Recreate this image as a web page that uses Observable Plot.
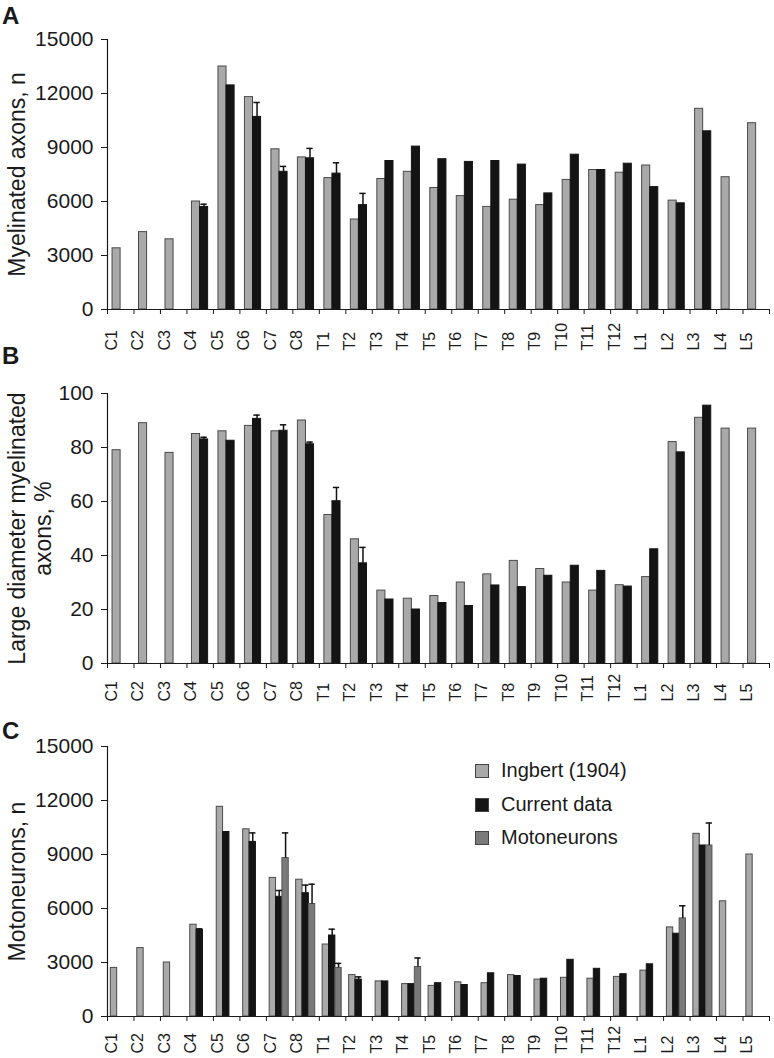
<!DOCTYPE html>
<html>
<head>
<meta charset="utf-8">
<script src="https://cdn.jsdelivr.net/npm/d3@7"></script>
<script src="https://cdn.jsdelivr.net/npm/@observablehq/plot@0.6"></script>
<style>
  html, body { margin: 0; padding: 0; background: #fff; }
  body { width: 774px; height: 1058px; position: relative; overflow: hidden;
         font-family: "Liberation Sans", Arial, Helvetica, sans-serif; color: #1a1a1a; }
  .panel { position: absolute; left: 0; z-index: 1; }
  .letter { position: absolute; left: 2px; font-weight: bold; font-size: 24px; line-height: 1; z-index: 3; }
  .legend { position: absolute; left: 475px; top: 760px; font-size: 20px; z-index: 3; }
  .legend .row { position: relative; height: 33.5px; }
  .legend .sw { position: absolute; left: 0; top: 4px; width: 12px; height: 12px; border: 1px solid #444; }
  .legend .lb { position: absolute; left: 26px; top: -1px; white-space: nowrap; }
</style>
</head>
<body>
<div class="letter" style="top:4px">A</div>
<div class="letter" style="top:344px">B</div>
<div class="letter" style="top:719px">C</div>
<div id="pa" class="panel" style="top:0px"></div>
<div id="pb" class="panel" style="top:353px"></div>
<div id="pc" class="panel" style="top:706px"></div>
<div class="legend" id="legend"></div>
<script>
// ---------- data ----------
const segments = ["C1","C2","C3","C4","C5","C6","C7","C8","T1","T2","T3","T4","T5","T6","T7","T8","T9","T10","T11","T12","L1","L2","L3","L4","L5"];

// Panel A: myelinated axons, n
const axonsIngbert = [3400,4300,3900,6000,13500,11800,8900,8450,7300,5000,7250,7650,6750,6300,5700,6100,5800,7200,7750,7600,8000,6050,11150,7350,10350];
const axonsCurrent = [null,null,null,5700,12450,10700,7650,8400,7550,5800,8250,9050,8350,8200,8250,8050,6450,8600,7750,8100,6800,5900,9900,null,null];
const axonsCurrentErr = [null,null,null,5850,null,11500,7950,8950,8150,6450,null,null,null,null,null,null,null,null,null,null,null,null,null,null,null];
const axonsTicks = [0,3000,6000,9000,12000,15000];

// Panel B: large diameter myelinated axons, %
const largeIngbert = [79,89,78,85,86,88,86,90,55,46,27,24,25,30,33,38,35,30,27,29,32,82,91,87,87];
const largeCurrent = [null,null,null,83,82.5,90.6,86.2,81.2,60.1,37.1,23.7,20,22.4,21.3,28.9,28.3,32.5,36.2,34.3,28.5,42.3,78.2,95.5,null,null];
const largeCurrentErr = [null,null,null,83.8,null,92,88.4,82,65.2,43,null,null,null,null,null,null,null,null,null,null,null,null,null,null,null];
const largeTicks = [0,20,40,60,80,100];

// Panel C: motoneurons, n
const motoIngbert = [2700,3800,3000,5100,11650,10400,7700,7600,4000,2300,1950,1800,1700,1900,1850,2300,2050,2150,2100,2200,2550,4950,10150,6400,9000];
const motoCurrent = [null,null,null,4800,10250,9700,6650,6850,4500,2050,1950,1800,1850,1750,2400,2250,2100,3150,2650,2350,2900,4600,9500,null,null];
const motoCurrentErr = [null,null,null,4870,null,10200,7000,7300,4850,2200,null,null,null,null,null,null,null,null,null,null,null,null,null,null,null];
const motoMoto = [null,null,null,null,null,null,8800,6250,2700,null,null,2750,null,null,null,null,null,null,null,null,null,5450,9500,null,null];
const motoMotoErr = [null,null,null,null,null,null,10200,7350,2950,null,null,3250,null,null,null,null,null,null,null,null,null,6150,10750,null,null];
const motoTicks = [0,3000,6000,9000,12000,15000];

const seriesNames = ["Ingbert (1904)", "Current data", "Motoneurons"];
const fills = {"Ingbert (1904)": "#a9a9a9", "Current data": "#141414", "Motoneurons": "#7a7a7a"};
const strokes = {"Ingbert (1904)": "#4a4a4a", "Current data": "#141414", "Motoneurons": "#555555"};

const FONT = '"Liberation Sans", Arial, Helvetica, sans-serif';

// build a long table from the arrays
function table(seriesList) {
  const rows = [];
  seriesList.forEach(([name, vals, errs], k) => {
    vals.forEach((v, i) => {
      if (v != null) rows.push({seg: segments[i], i, k, series: name, value: v, err: errs ? errs[i] : null});
    });
  });
  return rows;
}

function panel({rows, slotStart, slotWidth, ymax, ticks, title, titleDx, marginTop, marginBottom, labelDy}) {
  const h = marginTop + 270 + marginBottom;
  const x1 = d => d.i + slotStart + d.k * slotWidth;
  const x2 = d => d.i + slotStart + (d.k + 1) * slotWidth;
  const xc = d => d.i + slotStart + (d.k + 0.5) * slotWidth;
  const capHalf = 0.12;
  const errRows = rows.filter(d => d.err != null);
  return Plot.plot({
    width: 774,
    height: h,
    marginLeft: 107,
    marginRight: 5,
    marginTop,
    marginBottom,
    style: {fontFamily: FONT, color: "#1a1a1a", background: "transparent", overflow: "visible"},
    x: {domain: [0, segments.length], axis: null},
    y: {domain: [0, ymax], axis: null},
    marks: [
      Plot.rect(rows, {x1, x2, y1: 0, y2: "value",
        fill: d => fills[d.series], stroke: d => strokes[d.series], strokeWidth: 1}),
      Plot.ruleX(errRows, {x: xc, y1: "value", y2: "err", stroke: "#111", strokeWidth: 1.5}),
      Plot.ruleY(errRows, {y: "err", x1: d => xc(d) - capHalf, x2: d => xc(d) + capHalf, stroke: "#111", strokeWidth: 1.5}),
      Plot.axisY({ticks, tickSize: 6, tickPadding: 8, tickFormat: d3.format("d"), fontSize: 21, label: null}),
      Plot.axisX({ticks: d3.range(segments.length + 1), tickSize: 5, tickFormat: () => "", label: null}),
      Plot.ruleX([0], {strokeWidth: 1.2}),
      Plot.ruleY([0], {strokeWidth: 1.2}),
      Plot.text(segments, {x: (d, i) => i + 0.5, frameAnchor: "bottom", dy: labelDy, dx: -4,
        rotate: -90, textAnchor: "start", fontSize: 16}),
      Plot.text([title], {frameAnchor: "left", dx: titleDx, rotate: -90, textAnchor: "middle", fontSize: 23, lineHeight: 1.12})
    ]
  });
}

document.getElementById("pa").append(panel({
  rows: table([["Ingbert (1904)", axonsIngbert], ["Current data", axonsCurrent, axonsCurrentErr]]),
  slotStart: 0.19, slotWidth: 0.305, ymax: 15000, ticks: axonsTicks,
  title: "Myelinated axons, n", titleDx: -91, marginTop: 39, marginBottom: 44, labelDy: 41
}));
document.getElementById("pb").append(panel({
  rows: table([["Ingbert (1904)", largeIngbert], ["Current data", largeCurrent, largeCurrentErr]]),
  slotStart: 0.19, slotWidth: 0.305, ymax: 100, ticks: largeTicks,
  title: "Large diameter myelinated\naxons, %", titleDx: -78, marginTop: 40, marginBottom: 43, labelDy: 38
}));
document.getElementById("pc").append(panel({
  rows: table([["Ingbert (1904)", motoIngbert], ["Current data", motoCurrent, motoCurrentErr], ["Motoneurons", motoMoto, motoMotoErr]]),
  slotStart: 0.125, slotWidth: 0.24, ymax: 15000, ticks: motoTicks,
  title: "Motoneurons, n", titleDx: -91, marginTop: 40, marginBottom: 42, labelDy: 37
}));

const lg = document.getElementById("legend");
seriesNames.forEach(name => {
  const row = document.createElement("div");
  row.className = "row";
  row.innerHTML = `<div class="sw" style="background:${fills[name]}"></div><div class="lb">${name}</div>`;
  lg.append(row);
});
</script>
</body>
</html>
